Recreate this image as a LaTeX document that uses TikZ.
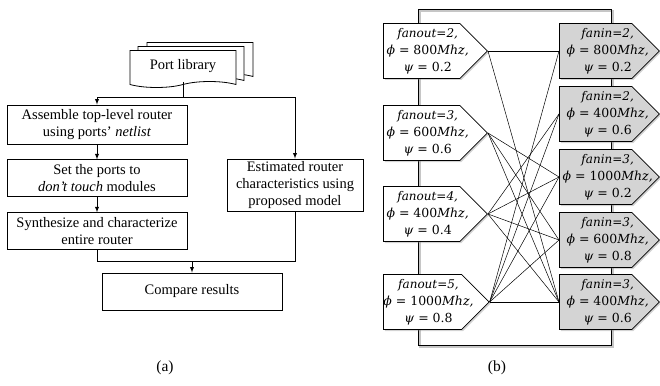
\documentclass[tikz,border=0pt]{standalone}
\usepackage{fontspec}
\setmainfont{Liberation Serif}
\newfontfamily\fanfont{DejaVu Serif}
\usetikzlibrary{positioning,shapes.symbols,shadows}
\definecolor{fanfill}{gray}{0.83}
\newcommand{\fantext}[3]{\begin{tabular}{@{}c@{}}{\fontsize{12}{17}\selectfont\textit{#1}}\\#2\\#3\end{tabular}}

\begin{document}
\begin{tikzpicture}[x=1pt,y=-1pt,node distance=15pt]
  \tikzset{
    procbox/.style={draw, rectangle, line width=0.9pt, minimum width=180pt, minimum height=37pt, inner sep=1pt, align=center, font=\fontsize{14.5}{17}\selectfont},
    docbox/.style={draw, tape, tape bend top=none, tape bend bottom=in and out, tape bend height=6pt, fill=white, line width=0.8pt, minimum width=106pt, minimum height=37pt, font=\fontsize{14.5}{17}\selectfont},
    arr/.style={line width=0.9pt, -latex},
    outnode/.style={draw, signal, signal to=east, fill=white, line width=0.8pt, minimum width=104pt, minimum height=55pt, inner sep=0pt, drop shadow={shadow xshift=1.5pt, shadow yshift=-1.5pt, opacity=0.35}, font=\fanfont\fontsize{12.5}{17}\selectfont, execute at end node={\hspace*{-12pt}}},
    innode/.style={outnode, fill=fanfill, minimum width=100pt, execute at end node={\hspace*{-12pt}}},
    wire/.style={line width=0.5pt},
    caption/.style={font=\fontsize{15.5}{18}\selectfont}
  }
  \useasboundingbox (0,0) rectangle (660,385);

  % (a) flow
  \node[docbox] (lib3) at (200,58) {};
  \node[docbox] (lib2) at (191,62) {};
  \node[docbox] (lib) at (183,66) {Port library};

  \node[procbox, minimum height=39pt] (assemble) at (97,124.5) {Assemble top-level router\\using ports’ \textit{netlist}};
  \node[procbox, below=of assemble] (setports) {Set the ports to\\\textit{don’t touch} modules};
  \node[procbox, below=of setports] (synth) {Synthesize and characterize\\entire router};
  \node[procbox, minimum width=136pt, minimum height=52pt] (estim) at (295,185) {Estimated router\\characteristics using\\proposed model};
  \node[procbox] (compare) at (192,291.5) {Compare results};

  \coordinate (split) at (183,97);
  \coordinate (join) at (192,261);
  \draw[line width=0.9pt] (lib.south) -- (split);
  \draw[arr] (split) -| (assemble.north);
  \draw[arr] (split) -| (estim.north);
  \draw[arr] (assemble) -- (setports);
  \draw[arr] (setports) -- (synth);
  \draw[line width=0.9pt] (synth.south) |- (join);
  \draw[line width=0.9pt] (estim.south) |- (join);
  \draw[arr] (join) -- (compare);

  \node[caption] (capa) at (165,368) {(a)};

  % (b) fanout / fanin
  \draw[gray!45, line width=1.8pt] (420,11) rectangle (613,347);
  \draw[line width=0.9pt] (418,9) rectangle (611,345);

  \node[outnode, anchor=west] (L1) at (383,51) {\fantext{fanout=2,}{\textit{ϕ} = 800\textit{Mhz,}}{\textit{ψ} = 0.2}};
  \node[outnode, anchor=west] (L2) at (383,133) {\fantext{fanout=3,}{\textit{ϕ} = 600\textit{Mhz,}}{\textit{ψ} = 0.6}};
  \node[outnode, anchor=west] (L3) at (383,214) {\fantext{fanout=4,}{\textit{ϕ} = 400\textit{Mhz,}}{\textit{ψ} = 0.4}};
  \node[outnode, anchor=west] (L4) at (383,302) {\fantext{fanout=5,}{\textit{ϕ} = 1000\textit{Mhz,}}{\textit{ψ} = 0.8}};

  \node[innode, anchor=west] (R1) at (559,51) {\fantext{fanin=2,}{\textit{ϕ} = 800\textit{Mhz,}}{\textit{ψ} = 0.2}};
  \node[innode, anchor=west] (R2) at (559,114) {\fantext{fanin=2,}{\textit{ϕ} = 400\textit{Mhz,}}{\textit{ψ} = 0.6}};
  \node[innode, anchor=west] (R3) at (559,177) {\fantext{fanin=3,}{\textit{ϕ} = 1000\textit{Mhz,}}{\textit{ψ} = 0.2}};
  \node[innode, anchor=west] (R4) at (559,240) {\fantext{fanin=3,}{\textit{ϕ} = 600\textit{Mhz,}}{\textit{ψ} = 0.8}};
  \node[innode, anchor=west] (R5) at (559,302) {\fantext{fanin=3,}{\textit{ϕ} = 400\textit{Mhz,}}{\textit{ψ} = 0.6}};

  \foreach \a/\b in {1/1,1/5,2/3,2/4,2/5,3/2,3/3,3/4,3/5,4/1,4/2,4/3,4/4,4/5}
    \draw[wire] (L\a.east) -- (R\b.west);

  \node[caption] (capb) at (497,368) {(b)};
\end{tikzpicture}
\end{document}
